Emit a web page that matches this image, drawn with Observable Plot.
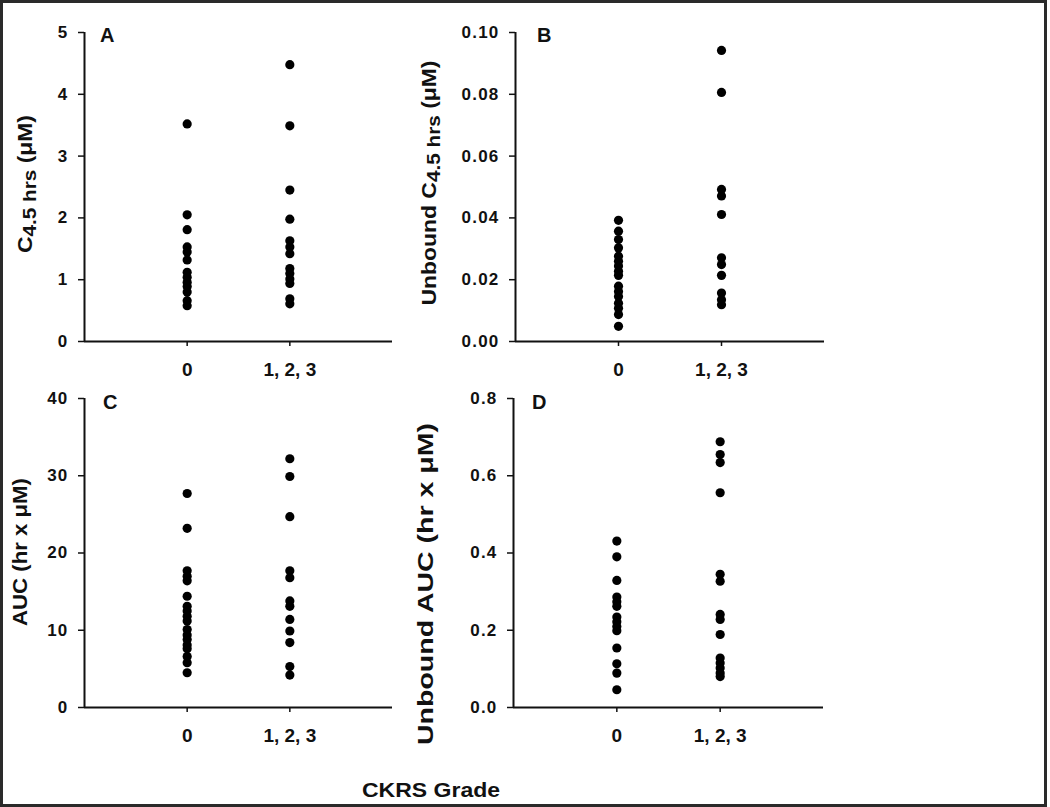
<!DOCTYPE html>
<html>
<head>
<meta charset="utf-8">
<script src="https://cdn.jsdelivr.net/npm/d3@7"></script>
<script src="https://cdn.jsdelivr.net/npm/@observablehq/plot@0.6"></script>
<style>
  html, body { margin: 0; padding: 0; background: #fff; }
  #wrap { position: relative; width: 1050px; height: 807px; overflow: hidden; }
  #frame { position: absolute; left: 0; top: 0; width: 1047px; height: 807px; box-sizing: border-box; border: 3px solid #2a2a2a; }
  .panel { position: absolute; }
  #overlay { position: absolute; left: 0; top: 0; }
  text { font-family: "Liberation Sans", Arial, sans-serif; }
</style>
</head>
<body>
<div id="wrap">
  <div id="frame"></div>
</div>
<script>
// ---- data ----
const grades = ["0", "1, 2, 3"];

const c45Grade0   = [3.52, 2.05, 1.81, 1.53, 1.45, 1.32, 1.12, 1.04, 0.96, 0.89, 0.80, 0.66, 0.58];
const c45Grade123 = [4.48, 3.49, 2.45, 1.98, 1.63, 1.53, 1.42, 1.18, 1.10, 1.01, 0.94, 0.69, 0.61];

const unboundC45Grade0   = [0.0392, 0.0357, 0.0330, 0.0303, 0.0276, 0.0260, 0.0244, 0.0227, 0.0214, 0.0179, 0.0162, 0.0146, 0.0124, 0.0108, 0.0087, 0.0049];
const unboundC45Grade123 = [0.0942, 0.0806, 0.0492, 0.0471, 0.0411, 0.0271, 0.0249, 0.0214, 0.0157, 0.0135, 0.0119];

const aucGrade0   = [27.7, 23.2, 17.7, 17.0, 16.4, 14.4, 13.1, 12.5, 11.8, 11.2, 10.1, 9.4, 8.8, 8.1, 7.6, 6.6, 5.8, 4.5];
const aucGrade123 = [32.2, 29.9, 24.7, 17.7, 16.8, 13.8, 13.1, 11.4, 9.9, 8.4, 5.3, 4.2];

const unboundAucGrade0   = [0.431, 0.390, 0.329, 0.286, 0.274, 0.262, 0.234, 0.222, 0.210, 0.199, 0.154, 0.113, 0.089, 0.046];
const unboundAucGrade123 = [0.688, 0.655, 0.634, 0.556, 0.345, 0.327, 0.241, 0.228, 0.189, 0.128, 0.115, 0.102, 0.089, 0.080];

const ticksA = [0, 1, 2, 3, 4, 5];
const ticksB = [0, 0.02, 0.04, 0.06, 0.08, 0.10];
const ticksC = [0, 10, 20, 30, 40];
const ticksD = [0, 0.2, 0.4, 0.6, 0.8];

const panelLetters = ["A", "B", "C", "D"];
const xTitle = "CKRS Grade";

// ---- layout ----
const wrap = document.getElementById("wrap");

function makePanel({v0, v1, domain, ticks, format, left, top, width, marginRight}) {
  const rows = [
    ...v0.map(v => ({g: 1, v})),
    ...v1.map(v => ({g: 2, v}))
  ];
  const svg = Plot.plot({
    width, height: 390,
    marginLeft: 84, marginRight, marginTop: 32, marginBottom: 49,
    style: {background: "transparent", overflow: "visible", fontFamily: "'Liberation Sans', Arial, sans-serif", fontWeight: "bold", color: "#111"},
    x: {domain: [0, 3]},
    y: {domain},
    marks: [
      Plot.axisX({ticks: [1, 2], tickFormat: d => grades[d - 1], tickSize: 5, tickPadding: 16, fontSize: 19, label: null, strokeWidth: 1.5}),
      Plot.axisY({ticks, tickFormat: format, tickSize: 6, tickPadding: 10, fontSize: 17, label: null, strokeWidth: 1.5}),
      Plot.ruleX([0], {stroke: "#111", strokeWidth: 2}),
      Plot.ruleY([0], {stroke: "#111", strokeWidth: 2}),
      Plot.dot(rows, {x: "g", y: "v", r: 4.6, fill: "#000", stroke: null})
    ]
  });
  const div = document.createElement("div");
  div.className = "panel";
  div.style.left = left + "px";
  div.style.top = top + "px";
  div.appendChild(svg);
  wrap.appendChild(div);
  d3.select(svg).selectAll("[aria-label='y-axis tick label'] text").style("letter-spacing", "1.2px");
}

makePanel({v0: c45Grade0, v1: c45Grade123, domain: [0, 5], ticks: ticksA, format: d3.format("d"), left: 0, top: 0, width: 430, marginRight: 38});
makePanel({v0: unboundC45Grade0, v1: unboundC45Grade123, domain: [0, 0.1], ticks: ticksB, format: d3.format(".2f"), left: 431, top: 0, width: 430, marginRight: 37});
makePanel({v0: aucGrade0, v1: aucGrade123, domain: [0, 40], ticks: ticksC, format: d3.format("d"), left: 0, top: 366, width: 430, marginRight: 38});
makePanel({v0: unboundAucGrade0, v1: unboundAucGrade123, domain: [0, 0.8], ticks: ticksD, format: d3.format(".1f"), left: 429, top: 366, width: 430, marginRight: 36});

// ---- overlay text: axis titles, panel letters, x title ----
const overlay = d3.select(wrap).append("svg")
  .attr("id", "overlay").attr("width", 1050).attr("height", 807);

const yTitles = [
  {parts: [["C", 0, 21], ["4.5 hrs", 4, 19], [" (\u03BCM)", -4, 21]], x: 32, y: 184, len: 138},
  {parts: [["Unbound C", 0, 21], ["4.5 hrs", 4, 19], [" (\u03BCM)", -4, 21]], x: 436, y: 183, len: 245},
  {parts: [["AUC (hr x \u03BCM)", 0, 21]], x: 27, y: 552, len: 148},
  {parts: [["Unbound AUC (hr x \u03BCM)", 0, 22]], x: 433, y: 584, len: 322}
];
for (const t of yTitles) {
  const txt = overlay.append("text")
    .attr("transform", `translate(${t.x},${t.y}) rotate(-90)`)
    .attr("text-anchor", "middle")
    .attr("font-weight", "bold").attr("fill", "#111")
    .attr("textLength", t.len).attr("lengthAdjust", "spacingAndGlyphs");
  for (const [s, dy, fs] of t.parts) txt.append("tspan").attr("dy", dy).attr("font-size", fs).text(s);
}

const letterPos = [[100, 42], [537, 42], [103, 409], [532, 409]];
panelLetters.forEach((L, i) => {
  overlay.append("text").attr("x", letterPos[i][0]).attr("y", letterPos[i][1])
    .attr("font-size", 20).attr("font-weight", "bold").attr("fill", "#111").text(L);
});

overlay.append("text").attr("x", 431).attr("y", 797).attr("text-anchor", "middle")
  .attr("font-size", 20).attr("font-weight", "bold").attr("fill", "#111")
  .attr("textLength", 138).attr("lengthAdjust", "spacingAndGlyphs").text(xTitle);
</script>
</body>
</html>
